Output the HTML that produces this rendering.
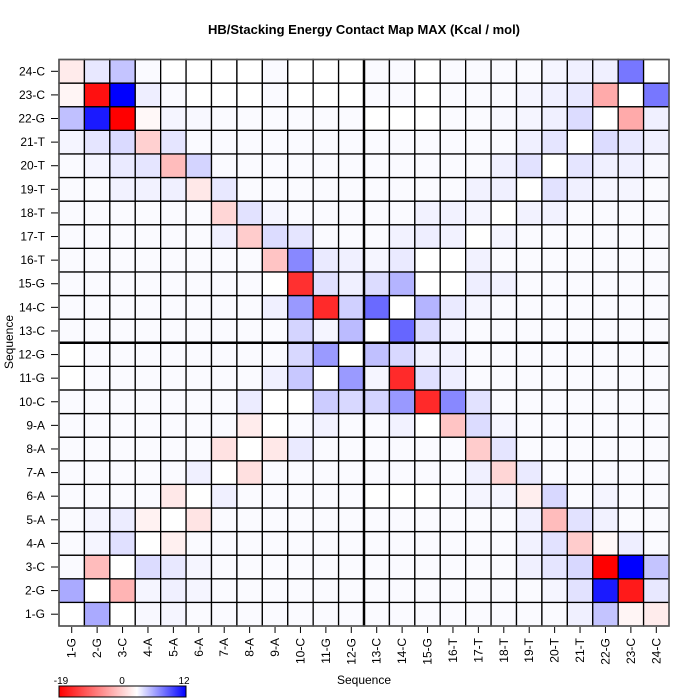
<!DOCTYPE html>
<html><head><meta charset="utf-8"><style>body{margin:0;background:#fff}svg{display:block}text{font-family:"Liberation Sans",sans-serif}</style></head>
<body><svg id="s" width="700" height="700" xmlns="http://www.w3.org/2000/svg">
<defs><linearGradient id="g" x1="0" x2="1"><stop offset="0" stop-color="#ff0000"/><stop offset="0.613" stop-color="#ffffff"/><stop offset="1" stop-color="#0000ff"/></linearGradient></defs>
<text x="364" y="34" text-anchor="middle" font-size="13" font-weight="bold">HB/Stacking Energy Contact Map MAX (Kcal / mol)</text>
<text x="364" y="684" text-anchor="middle" font-size="12">Sequence</text>
<text transform="translate(13,342) rotate(-90)" text-anchor="middle" font-size="12">Sequence</text>
<rect x="59" y="686" width="127" height="11" fill="url(#g)" stroke="#000" stroke-width="1"/>
<text x="61" y="684" text-anchor="middle" font-size="10">-19</text>
<text x="122" y="684" text-anchor="middle" font-size="10">0</text>
<text x="184" y="684" text-anchor="middle" font-size="10">12</text>
<g id="cells"></g>
</svg>
<script>
var L=59,R=669,T=59.5,B=626,cw=(R-L)/24,ch=(B-T)/24;
var labels=["1-G","2-G","3-C","4-A","5-A","6-A","7-A","8-A","9-A","10-C","11-G","12-G","13-C","14-C","15-G","16-T","17-T","18-T","19-T","20-T","21-T","22-G","23-C","24-C"];
var d={
24:{1:"#ffebeb",2:"#e8e8ff",3:"#c4c4ff",5:"#fff",6:"#fff",7:"#fff",8:"#fff",10:"#fff",11:"#fff",12:"#fff",15:"#fff",20:"#f5f5ff",21:"#f0f0ff",22:"#f0f0ff",23:"#7777ff",24:"#fff"},
23:{1:"#fff5f5",2:"#ff1010",3:"#0000ff",4:"#eeeeff",6:"#fff",7:"#fff",8:"#fff",10:"#fff",11:"#fff",12:"#fff",15:"#fff",19:"#f5f5ff",20:"#f0f0ff",21:"#e8e8ff",22:"#ffaaaa",23:"#fff",24:"#7777ff"},
22:{1:"#c0c0ff",2:"#1a1aff",3:"#ff0000",4:"#fff8f8",5:"#f5f5ff",6:"#f8f8ff",13:"#fff",14:"#fff",15:"#fff",18:"#f8f8ff",19:"#f5f5ff",20:"#f0f0ff",21:"#dcdcff",22:"#fff",23:"#ffaaaa",24:"#f0f0ff"},
21:{1:"#f5f5ff",2:"#e5e5ff",3:"#dadaff",4:"#ffd0d0",5:"#e5e5ff",19:"#f0f0ff",20:"#e5e5ff",21:"#fff",22:"#dcdcff",23:"#e8e8ff",24:"#f0f0ff"},
20:{2:"#f5f5ff",3:"#eaeaff",4:"#e5e5ff",5:"#ffbcbc",6:"#d4d4ff",18:"#f0f0ff",19:"#e2e2ff",20:"#fff",21:"#e5e5ff",22:"#f0f0ff",23:"#f0f0ff",24:"#f8f8ff"},
19:{3:"#f2f2ff",4:"#f2f2ff",5:"#f0f0ff",6:"#ffe8e8",7:"#e8e8ff",17:"#f2f2ff",18:"#f0f0ff",19:"#fff",20:"#e2e2ff",21:"#f0f0ff",22:"#f5f5ff",23:"#f5f5ff"},
18:{7:"#ffd6d6",8:"#e2e2ff",9:"#f5f5ff",15:"#f2f2ff",16:"#f2f2ff",17:"#f5f5ff",18:"#fff",19:"#f2f2ff",20:"#f2f2ff"},
17:{7:"#f0f0ff",8:"#ffcccc",9:"#dcdcff",10:"#e5e5ff",14:"#f2f2ff",15:"#eeeeff",16:"#f2f2ff",17:"#fff",18:"#f5f5ff"},
16:{9:"#ffc4c4",10:"#8888ff",11:"#eaeaff",12:"#f0f0ff",13:"#f5f5ff",14:"#eaeaff",15:"#fff",16:"#fff",17:"#f2f2ff"},
15:{9:"#fff",10:"#ff3030",11:"#e0e0ff",12:"#f0f0ff",13:"#dcdcff",14:"#b4b4ff",15:"#fff",16:"#fff",17:"#eeeeff",18:"#f2f2ff"},
14:{9:"#f0f0ff",10:"#9999ff",11:"#ff2a2a",12:"#d0d0ff",13:"#6a6aff",14:"#fff",15:"#b4b4ff",16:"#eaeaff",17:"#f5f5ff"},
13:{10:"#d4d4ff",11:"#f5f5ff",12:"#bbbbff",13:"#fff",14:"#6666ff",15:"#dcdcff",16:"#f5f5ff"},
12:{1:"#fff",10:"#d8d8ff",11:"#9a9aff",12:"#fff",13:"#c0c0ff",14:"#d8d8ff",15:"#f0f0ff",16:"#f2f2ff"},
11:{1:"#fff",9:"#f0f0ff",10:"#c8c8ff",11:"#fff",12:"#9a9aff",13:"#f5f5ff",14:"#ff2a2a",15:"#e0e0ff",16:"#eeeeff"},
10:{8:"#ececff",9:"#fff",10:"#fff",11:"#ccccff",12:"#d8d8ff",13:"#d4d4ff",14:"#9999ff",15:"#ff2a2a",16:"#8888ff",17:"#e2e2ff"},
9:{8:"#ffecec",9:"#fff",11:"#f2f2ff",14:"#f2f2ff",15:"#fff",16:"#ffc4c4",17:"#dcdcff",18:"#f5f5ff"},
8:{7:"#ffe2e2",8:"#fff",9:"#ffe8e8",10:"#eaeaff",17:"#ffcccc",18:"#e5e5ff"},
7:{6:"#f0f0ff",7:"#fff",8:"#ffe0e0",17:"#f0f0ff",18:"#ffd6d6",19:"#eaeaff"},
6:{5:"#ffe8e8",6:"#fff",7:"#f0f0ff",13:"#fff",14:"#fff",15:"#fff",17:"#f5f5ff",18:"#f5f5ff",19:"#ffeeee",20:"#d8d8ff",22:"#f5f5ff"},
5:{2:"#f5f5ff",3:"#ececff",4:"#fff2f2",5:"#fff",6:"#ffe4e4",19:"#f0f0ff",20:"#ffbcbc",21:"#e2e2ff",22:"#f2f2ff"},
4:{2:"#f5f5ff",3:"#e0e0ff",4:"#fff",5:"#fff0f0",19:"#f2f2ff",20:"#e2e2ff",21:"#ffcccc",22:"#fff8f8",23:"#eeeeff"},
3:{2:"#ffbcbc",3:"#fff",4:"#dcdcff",5:"#e8e8ff",6:"#f5f5ff",19:"#f0f0ff",20:"#e5e5ff",21:"#d8d8ff",22:"#ff0000",23:"#0000ff",24:"#c4c4ff"},
2:{1:"#aaaaff",2:"#fff",3:"#ffb4b4",4:"#f5f5ff",5:"#f0f0ff",6:"#f5f5ff",20:"#f5f5ff",21:"#e2e2ff",22:"#1a1aff",23:"#ff1a1a",24:"#e8e8ff"},
1:{1:"#fff",2:"#aaaaff",3:"#fff",4:"#f8f8ff",5:"#f5f5ff",21:"#f0f0ff",22:"#c4c4ff",23:"#fff5f5",24:"#ffecec"}};
var h="";
for(var r=1;r<=24;r++){var y=B-r*ch;for(var c=1;c<=24;c++){var x=L+(c-1)*cw;var f=(d[r]&&d[r][c])||"#fafaff";
h+='<rect x="'+x.toFixed(2)+'" y="'+y.toFixed(2)+'" width="'+cw.toFixed(2)+'" height="'+ch.toFixed(2)+'" fill="'+f+'" stroke="#000" stroke-width="1.3"/>';}
var yc=y+ch/2;h+='<line x1="51" x2="58" y1="'+yc+'" y2="'+yc+'" stroke="#000"/><text x="45" y="'+(yc+4)+'" text-anchor="end" font-size="12">'+labels[r-1]+'</text>';}
for(var c=1;c<=24;c++){var xc=L+(c-0.5)*cw;h+='<line x1="'+xc+'" x2="'+xc+'" y1="627" y2="633" stroke="#000"/><text transform="translate('+(xc+4)+',638) rotate(-90)" text-anchor="end" font-size="12">'+labels[c-1]+'</text>';}
var mx=L+12*cw,my=T+12*ch;
h+='<line x1="'+mx+'" x2="'+mx+'" y1="'+T+'" y2="'+B+'" stroke="#000" stroke-width="2.5"/><line x1="'+L+'" x2="'+R+'" y1="'+my+'" y2="'+my+'" stroke="#000" stroke-width="2.5"/>';
h+='<rect x="'+L+'" y="'+T+'" width="'+(R-L)+'" height="'+(B-T)+'" fill="none" stroke="#555" stroke-width="1.5"/>';
document.getElementById("cells").innerHTML=h;
</script></body></html>
